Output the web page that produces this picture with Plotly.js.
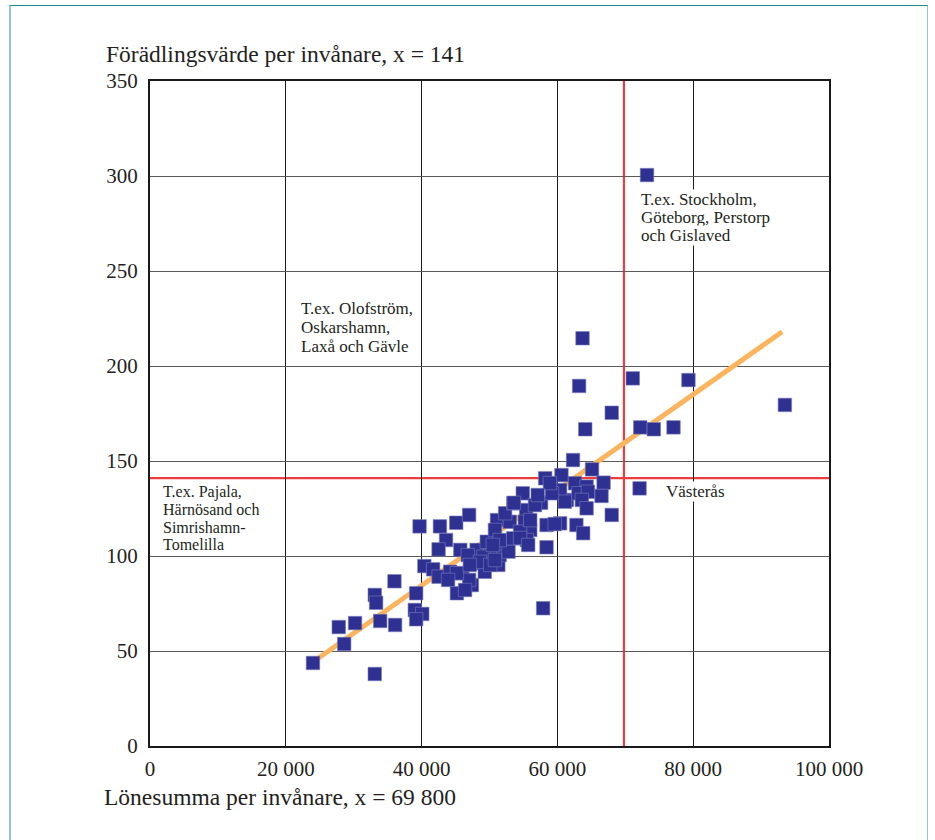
<!DOCTYPE html>
<html>
<head>
<meta charset="utf-8">
<script src="https://cdn.plot.ly/plotly-3.0.1.min.js"></script>
<style>
  html, body { margin: 0; padding: 0; background: #ffffff; }
  #wrap { position: relative; width: 935px; height: 840px; overflow: hidden; }
  #chart { position: absolute; left: 0; top: 0; width: 935px; height: 840px; }
  #frame { position: absolute; left: 9px; top: 5px; width: 916px; height: 850px;
           border-left: 2px solid #8ccaca; border-top: 1px solid #1f8a8a; border-right: 1px solid #8ccaca;
           pointer-events: none; }
</style>
</head>
<body>
<div id="wrap">
  <div id="chart"></div>
  <div id="frame"></div>
</div>
<script>
// Lönesumma per invånare (kr) och förädlingsvärde per invånare (index)
const lonesumma = [
  24000, 27800, 28600, 30200, 33100, 33900, 36100, 33100, 33300, 36000,
  39200, 39000, 40100, 39200,
  39700, 42700, 45100, 47000, 43600, 42500, 40400, 41700, 42500, 45200,
  47400, 45700, 44200, 46000, 48100, 48400, 49300, 51300, 51500, 47000,
  45200, 46800, 50100, 49100, 49600, 52300, 52800, 51100, 53000, 52300,
  53500, 54900, 55400, 55200, 56000, 54500, 53500, 55500, 58400, 57600,
  58200, 60600, 61400, 58400, 60400, 62800, 63800, 57900, 62300, 65100,
  66800, 66500, 68000, 72100, 62600, 64300, 60400, 63100, 64500, 61100,
  63600, 64300, 59200, 58900, 63700, 63200, 68000, 64100, 71100, 72200,
  74200, 77100, 79300, 93500, 73200,
  53600, 50800, 51500, 50500, 48600, 47100, 50100, 50800, 56000, 56700,
  57100, 54500, 55700, 43900, 46400, 59600
];
const foradlingsvarde = [
  43.7, 62.6, 53.7, 64.7, 37.9, 65.8, 63.7, 79.5, 75.4, 86.7,
  80.4, 71.6, 69.5, 66.7,
  115.6, 115.6, 117.5, 121.6, 108.4, 103.5, 94.7, 93.0, 89.1, 80.4,
  84.7, 103.2, 91.7, 91.0, 103.2, 96.2, 91.7, 95.3, 100.5, 87.4,
  90.9, 100.5, 103.2, 99.6, 107.5, 106.7, 102.3, 118.9, 118.0, 122.5,
  127.7, 133.0, 124.2, 118.0, 113.7, 112.8, 109.3, 108.4, 104.6, 128.0,
  140.9, 142.6, 129.5, 116.3, 117.2, 116.3, 112.0, 72.5, 150.5, 145.6,
  138.6, 131.6, 121.6, 135.6, 138.3, 136.5, 134.7, 133.0, 133.8, 128.6,
  129.5, 125.1, 133.0, 138.4, 214.6, 189.5, 175.4, 166.7, 193.5, 167.7,
  166.7, 167.7, 192.6, 179.5, 300.5,
  128.0, 113.7, 108.4, 105.8, 96.9, 95.3, 95.3, 97.9, 118.9, 126.8,
  132.1, 109.5, 105.8, 87.4, 82.1, 116.8
];
// Trendlinje (ändpunkter)
const trendX = [24300, 93100];
const trendY = [45, 218];
// Medelvärden
const meanX = 69800;
const meanY = 141;
// Axlar
const xTickVals = [0, 20000, 40000, 60000, 80000, 100000];
const xTickText = ['0', '20 000', '40 000', '60 000', '80 000', '100 000'];
const yTickVals = [0, 50, 100, 150, 200, 250, 300, 350];
const yTickText = ['0', '50', '100', '150', '200', '250', '300', '350'];
// Texter
const yTitle = 'Förädlingsvärde per invånare, x = 141';
const xTitle = 'Lönesumma per invånare, x = 69 800';
const noteTopRight = ['T.ex. Stockholm,', 'Göteborg, Perstorp', 'och Gislaved'];
const noteTopLeft = ['T.ex. Olofström,', 'Oskarshamn,', 'Laxå och Gävle'];
const noteBottomLeft = ['T.ex. Pajala,', 'Härnösand och', 'Simrishamn-', 'Tomelilla'];
const noteVasteras = 'Västerås';

const FONT = 'Liberation Serif, Times New Roman, serif';
const TXT = '#231f20';

const traces = [
  { x: trendX, y: trendY, mode: 'lines', type: 'scatter',
    line: { color: '#fdb45f', width: 5 }, hoverinfo: 'skip' },
  { x: lonesumma, y: foradlingsvarde, mode: 'markers', type: 'scatter',
    marker: { symbol: 'square', size: 13.5, color: '#2e3192',
              line: { color: '#7a7cbc', width: 0.6 } } }
];

const annotations = [];
function lines(arr, yStartPx, stepPx, xPx, size, bg) {
  arr.forEach((t, i) => {
    annotations.push({ xref: 'paper', yref: 'paper',
      x: (xPx - 150) / 679, y: (746 - (yStartPx + i * stepPx)) / 665,
      xanchor: 'left', yanchor: 'middle', text: t, showarrow: false,
      bgcolor: bg ? '#ffffff' : 'rgba(0,0,0,0)', borderpad: 0,
      font: { family: FONT, size: size, color: TXT } });
  });
}
lines(noteTopRight, 199, 18.4, 640, 17, true);
lines(noteTopLeft, 308, 19, 300, 17, false);
lines(noteBottomLeft, 492, 17.5, 162, 16, false);
lines([noteVasteras], 491, 0, 665, 17, true);

annotations.push({ xref: 'paper', yref: 'paper', x: (104 - 150) / 679, y: (746 - 54) / 665,
  xanchor: 'left', yanchor: 'middle', text: yTitle, showarrow: false,
  font: { family: FONT, size: 23.5, color: TXT } });
annotations.push({ xref: 'paper', yref: 'paper', x: (102 - 150) / 679, y: (746 - 797) / 665,
  xanchor: 'left', yanchor: 'middle', text: xTitle, showarrow: false,
  font: { family: FONT, size: 23.5, color: TXT } });

const layout = {
  width: 935, height: 840,
  margin: { l: 150, r: 106, t: 81, b: 94 },
  paper_bgcolor: '#ffffff', plot_bgcolor: '#ffffff',
  showlegend: false,
  xaxis: {
    range: [0, 100000], tickvals: xTickVals, ticktext: xTickText,
    showgrid: true, gridcolor: '#1a1a1a', gridwidth: 1,
    zeroline: false, showline: true, linecolor: '#1a1a1a', linewidth: 2, mirror: true,
    ticks: '', ticklabelstandoff: 3,
    tickfont: { family: FONT, size: 21, color: TXT }
  },
  yaxis: {
    range: [0, 350], tickvals: yTickVals, ticktext: yTickText,
    showgrid: true, gridcolor: '#5a5a5a', gridwidth: 1,
    zeroline: false, showline: true, linecolor: '#1a1a1a', linewidth: 2, mirror: true,
    ticks: '', ticklabelstandoff: 6,
    tickfont: { family: FONT, size: 21, color: TXT }
  },
  shapes: [
    { type: 'line', xref: 'x', yref: 'paper', x0: meanX, x1: meanX, y0: 0, y1: 1,
      line: { color: '#ec3c3c', width: 2.2 }, layer: 'between' },
    { type: 'line', xref: 'paper', yref: 'y', x0: 0, x1: 1, y0: meanY, y1: meanY,
      line: { color: '#ec3c3c', width: 2.2 }, layer: 'between' }
  ],
  annotations: annotations
};

Plotly.newPlot('chart', traces, layout, { displayModeBar: false, staticPlot: true });
</script>
</body>
</html>
